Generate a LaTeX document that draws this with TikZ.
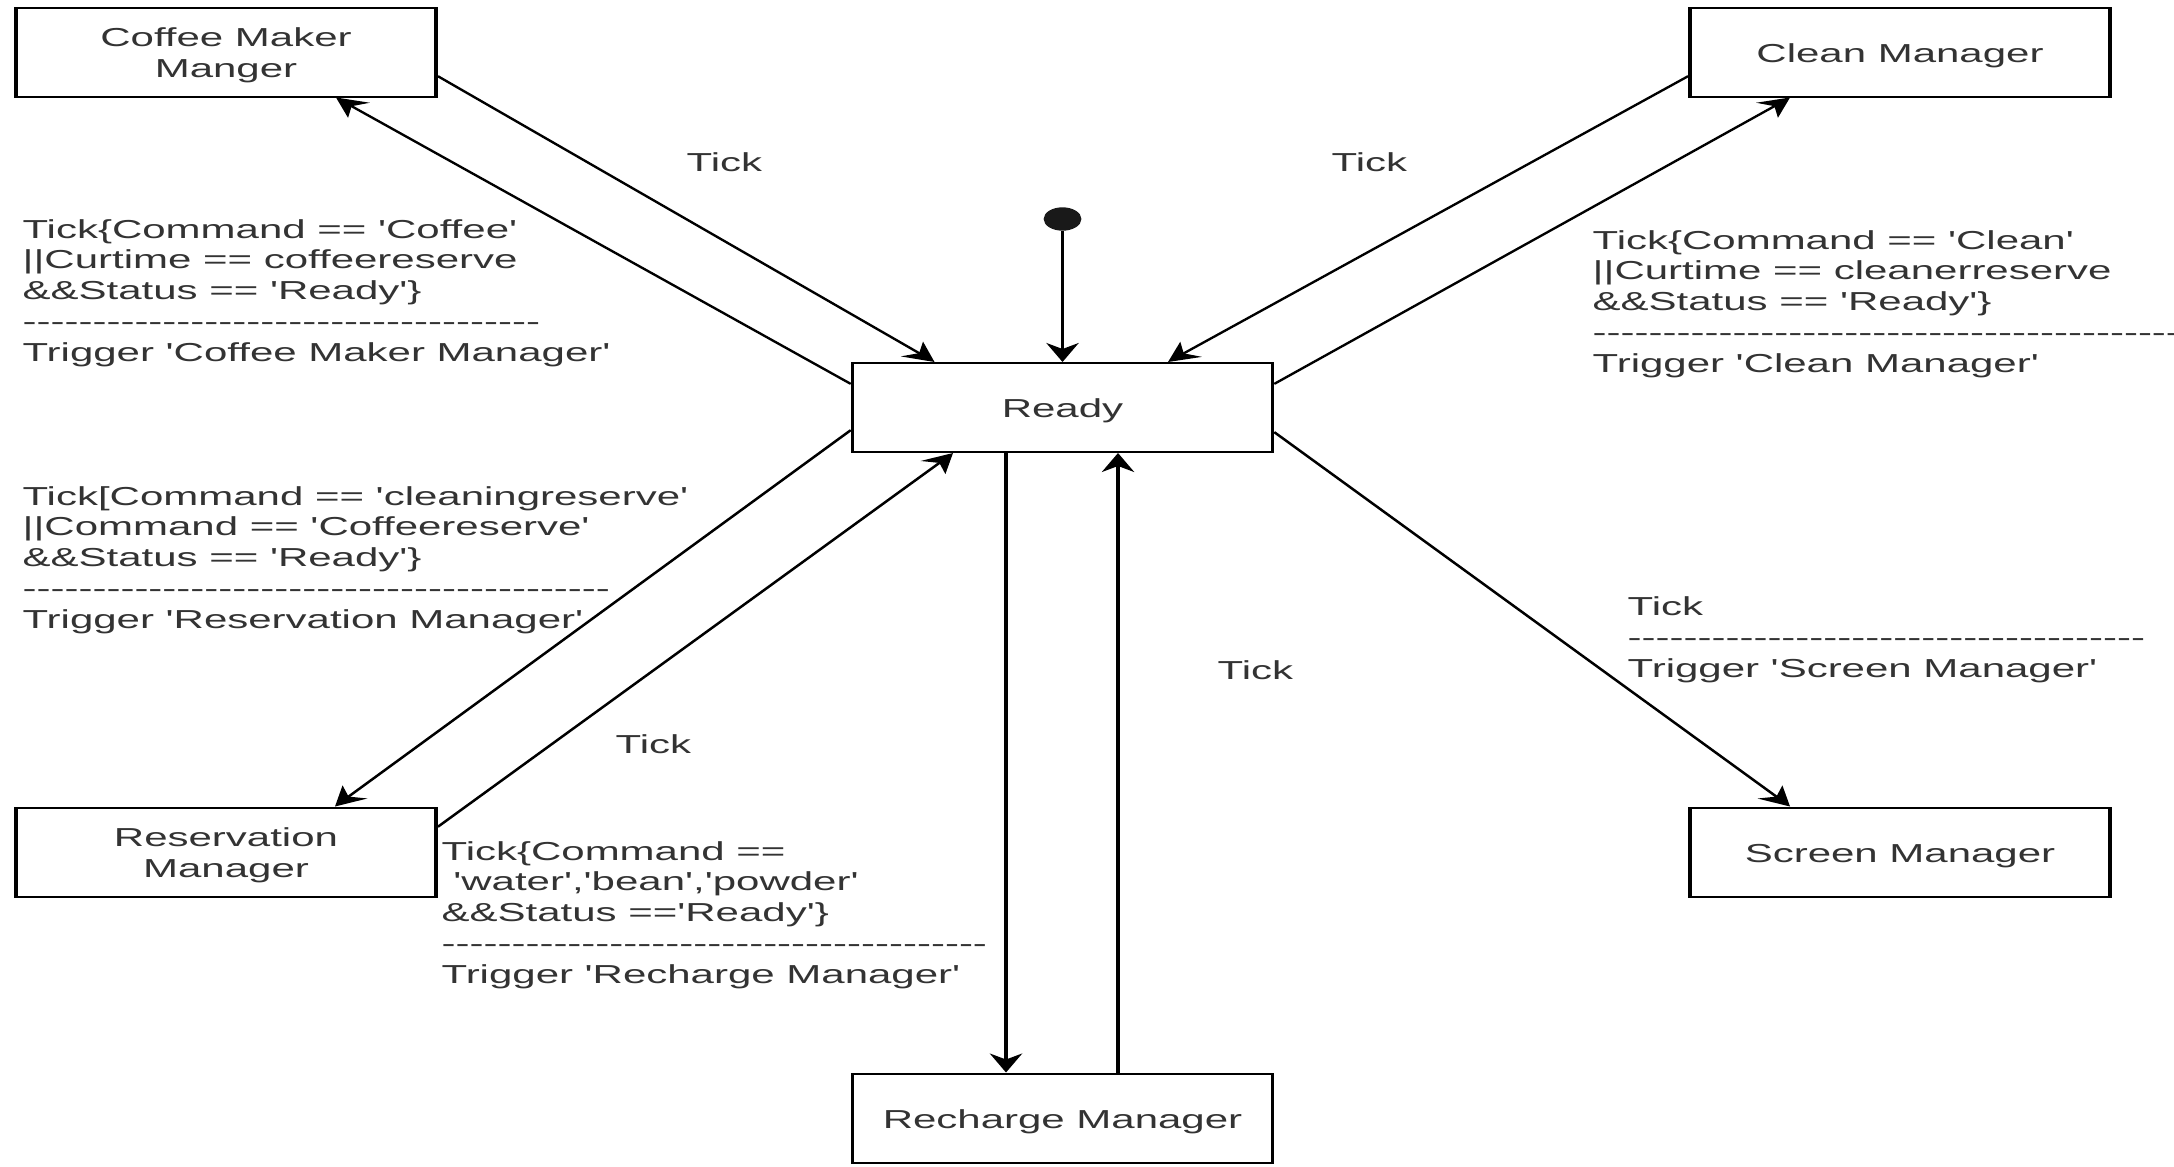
\documentclass[tikz,border=0pt]{standalone}
\usepackage{fontspec}
\newfontfamily\labfont{Liberation Sans}
\usetikzlibrary{arrows.meta}
\definecolor{txtgray}{HTML}{333333}
\newcommand\px[1]{#1*0.3096pt}
\newcommand\bxtext[1]{\raisebox{-2pt}[\height][\depth]{\begin{tabular}{@{}c@{}}#1\end{tabular}}}
\begin{document}
\begin{tikzpicture}[x=0.5pt,y=-0.5pt]
\useasboundingbox (0,0) rectangle (2174,1167);
\fill[white] (0,0) rectangle (2174,1167);
\clip (0,0) rectangle (2174,1167);
\begin{scope}[transform canvas={xscale=1.615},x=0.3096pt,
  every node/.style={font=\labfont\fontsize{13pt}{15.4pt}\selectfont,text=txtgray},
  box/.style={draw=black,line width=1pt,minimum width=130pt,minimum height=44.5pt,inner sep=0pt,align=center},
  lbl/.style={anchor=base west,inner sep=0pt},
  conn/.style={draw=black,line width=1pt,-{Stealth[length=9.5pt,width=10pt,inset=3pt]}}]

\node[box] (coffee) at (226,52) {\bxtext{Coffee Maker\\Manger}};
\node[box] (clean) at (1900,52) {\bxtext{Clean Manager}};
\node[box] (ready) at (1062.5,407.5) {\bxtext{Ready}};
\node[box] (reserv) at (226,852) {\bxtext{Reservation\\Manager}};
\node[box] (screen) at (1900,852) {\bxtext{Screen Manager}};
\node[box] (recharge) at (1062.5,1118) {\bxtext{Recharge Manager}};
\node[circle,fill=black!90,inner sep=0pt,minimum size=11.7pt] (init) at (1062.5,219) {};

\draw[conn] (init) -- (ready.north);
\draw[conn] ([yshift=-12pt]coffee.east) -- ([xshift=\px{-128}]ready.north);
\draw[conn] ([yshift=11.75pt]ready.west) -- ([xshift=\px{110}]coffee.south);
\draw[conn] ([yshift=-12pt]clean.west) -- ([xshift=\px{105.5}]ready.north);
\draw[conn] ([yshift=11.75pt]ready.east) -- ([xshift=\px{-110}]clean.south);
\draw[conn] ([yshift=-11.25pt]ready.west) -- ([xshift=\px{109}]reserv.north);
\draw[conn] ([yshift=12.5pt]reserv.east) -- ([xshift=\px{-109.5}]ready.south);
\draw[conn] ([xshift=\px{-56.5}]ready.south) -- ([xshift=\px{-56.5}]recharge.north);
\draw[conn] ([xshift=\px{55.5}]recharge.north) -- ([xshift=\px{55.5}]ready.south);
\draw[conn] ([yshift=-12.25pt]ready.east) -- ([xshift=\px{-110}]screen.north);

\node[lbl] (t1) at (686,171) {Tick};
\node[lbl] (t2) at (1331,171) {Tick};
\node[lbl] (t3) at (615,753) {Tick};
\node[lbl] (t4) at (1217,679) {Tick};

\node[lbl] (c1) at (22,238) {\begin{tabular}[t]{@{}l@{}}Tick\{Command == 'Coffee'\\ ||Curtime == coffeereserve\\ \&\&Status == 'Ready'\}\\ -------------------------------------\\ Trigger 'Coffee Maker Manager'\end{tabular}};
\node[lbl] (c2) at (22,505) {\begin{tabular}[t]{@{}l@{}}Tick[Command == 'cleaningreserve'\\ ||Command == 'Coffeereserve'\\ \&\&Status == 'Ready'\}\\ ------------------------------------------\\ Trigger 'Reservation Manager'\end{tabular}};
\node[lbl] (c3) at (1592,249) {\begin{tabular}[t]{@{}l@{}}Tick\{Command == 'Clean'\\ ||Curtime == cleanerreserve\\ \&\&Status == 'Ready'\}\\ ------------------------------------------\\ Trigger 'Clean Manager'\end{tabular}};
\node[lbl] (c4) at (1627,615.5) {\begin{tabular}[t]{@{}l@{}}Tick\\ -------------------------------------\\ Trigger 'Screen Manager'\end{tabular}};
\node[lbl] (c5) at (441,860) {\begin{tabular}[t]{@{}l@{}}Tick\{Command ==\\ \ 'water','bean','powder'\\ \&\&Status =='Ready'\}\\ ---------------------------------------\\ Trigger 'Recharge Manager'\end{tabular}};
\end{scope}
\end{tikzpicture}
\end{document}
